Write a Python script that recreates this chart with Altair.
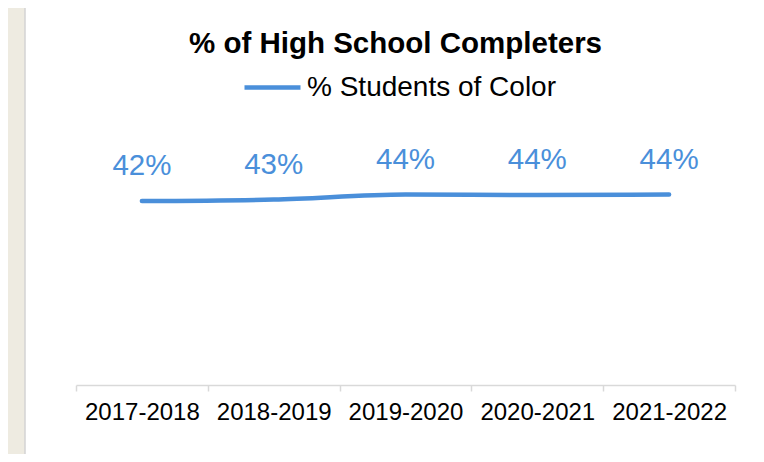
import altair as alt
import pandas as pd

years = ["2017-2018", "2018-2019", "2019-2020", "2020-2021", "2021-2022"]
pct_students_of_color = [0.4245, 0.428, 0.4395, 0.4383, 0.4395]
series_name = "% Students of Color"
chart_title = "% of High School Completers"

FONT = "Liberation Sans"
BLUE = "#4A8FDA"

df = pd.DataFrame({
    "year": years,
    "value": pct_students_of_color,
    "series": [series_name] * len(years),
})

x_enc = alt.X(
    "year:N",
    sort=years,
    bandPosition=0.5,
    scale=alt.Scale(type="band", paddingInner=0, paddingOuter=0),
    axis=alt.Axis(
        title=None, labelAngle=0, labelFontSize=24, labelFont=FONT,
        labelColor="black", labelPadding=9, domainColor="#d9d9d9",
        domainWidth=1.5, tickColor="#d9d9d9", tickWidth=1.5, tickSize=6,
        tickBand="extent", grid=False, zindex=1,
    ),
)
y_enc = alt.Y("value:Q", scale=alt.Scale(domain=[0, 0.6]), axis=None)

panel = alt.Chart(pd.DataFrame({"k": [0]})).mark_rect(
    fill="white", stroke="#d4d4d4", strokeWidth=1.5
).encode(
    x=alt.value(-51), x2=alt.value(700), y=alt.value(-120), y2=alt.value(360)
)

line = alt.Chart(df).mark_line(
    strokeWidth=4.5, strokeCap="round", interpolate="monotone"
).encode(
    x=x_enc,
    y=y_enc,
    color=alt.Color(
        "series:N",
        scale=alt.Scale(domain=[series_name], range=[BLUE]),
        legend=alt.Legend(
            title=None, orient="none", legendX=166, legendY=-68,
            symbolType="stroke", symbolStrokeWidth=4.5, symbolSize=3136,
            labelFontSize=28, labelFont=FONT, labelColor="black",
            labelOffset=4, labelLimit=0, padding=0,
        ),
    ),
)

labels = alt.Chart(df).mark_text(
    dy=-35, fontSize=29.5, font=FONT, color=BLUE, baseline="middle"
).encode(
    x=x_enc,
    y=y_enc,
    text=alt.Text("value:Q", format=".0%"),
)

chart = alt.layer(panel, line, labels).properties(
    width=659,
    height=260,
    background="#EEEBE1",
    padding={"left": 68, "top": 117, "right": 21, "bottom": 69},
    autosize=alt.AutoSizeParams(type="none"),
    title=alt.Title(
        chart_title, fontSize=29.5, fontWeight="bold", font=FONT,
        color="black", anchor="middle", offset=-55, dx=-10,
    ),
).configure_view(strokeWidth=0)

chart.save("out.html", embed_options={"renderer": "svg", "actions": False})
